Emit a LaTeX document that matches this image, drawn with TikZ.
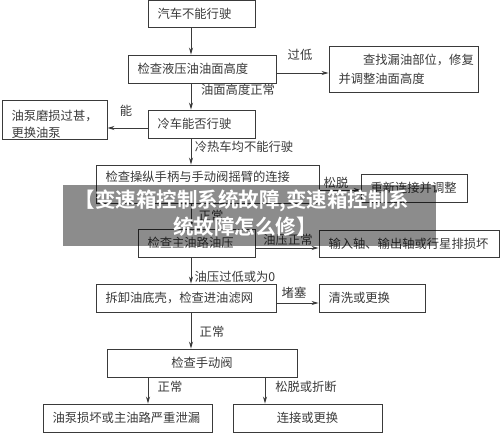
\documentclass[tikz,border=0pt]{standalone}
\usepackage{fontspec}
\usetikzlibrary{arrows.meta}
\newfontfamily\song{Noto Sans CJK SC}
\newfontfamily\bannerfont{Noto Sans CJK SC}[BoldFont={Noto Sans CJK SC Bold}]
\definecolor{linec}{HTML}{3A3A3A}
\definecolor{txtc}{HTML}{3A3A3A}
\tikzset{
  box/.style={draw=linec, line width=0.9pt, inner xsep=9.5pt, inner ysep=0pt,
    align=left, text=txtc, font=\song\fontsize{12.3}{17}\selectfont},
  cbox/.style={box, align=center},
  lbl/.style={inner sep=0pt, text=txtc, font=\song\fontsize{12.3}{15}\selectfont},
  arr/.style={draw=linec, line width=0.8pt, -{Stealth[length=7pt,width=4pt]}},
  bannertxt/.style={inner sep=0pt, text=white, font=\bannerfont\bfseries\fontsize{20.5}{24}\selectfont}
}
\begin{document}
\begin{tikzpicture}[x=1pt,y=-1pt]
\useasboundingbox[fill=white] (0,0) rectangle (500,433);
\coordinate (vx) at (191,0);
\coordinate (lx) at (148,0);
\coordinate (rx) at (265,0);

\node[box, minimum height=27pt, text width=88pt] (b1) at (201.5,13.5) {汽车不能行驶};
\node[box, minimum height=28pt, text width=129pt] (b2) at (202,69) {检查液压油油面高度};
\node[box, minimum height=46pt, text width=130pt] (b3) at (403.5,69) {\hspace*{2em}查找漏油部位，修复\\[2pt]并调整油面高度};
\node[box, minimum height=28pt, text width=88pt] (b4) at (201.5,124) {冷车能否行驶};
\node[box, minimum height=39pt, text width=86pt] (b5) at (54.5,119.5) {\vrule width 0pt height 19pt depth 0pt油泵磨损过甚，\\更换油泵};
\node[box, minimum height=38pt, text width=204pt] (b6) at (207.5,184) {检查操纵手柄与手动阀摇臂的连接\vrule width 0pt height 0pt depth 15.5pt};
\node[box, minimum height=28pt, text width=87pt] (b7) at (414,188) {重新连接并调整};
\node[box, minimum height=28pt, text width=98pt] (b8) at (196.5,243) {检查主油路油压};
\node[box, minimum height=27pt, text width=161pt] (b9) at (409,243.5) {输入轴、输出轴或行星排损坏};
\node[box, minimum height=28pt, text width=161pt] (b10) at (186,298) {拆卸油底壳，检查进油滤网};
\node[box, minimum height=28pt, text width=87pt] (b11) at (372,298) {清洗或更换};
\node[cbox, minimum height=28pt, text width=171pt] (b12) at (202,363) {检查手动阀};
\node[box, minimum height=28pt, text width=150pt] (b13) at (127.5,418) {油泵损坏或主油路严重泄漏};
\node[cbox, minimum height=28pt, text width=130pt] (b14) at (307.5,418) {连接或更换};

\draw[arr] (b1.south -| vx) -- (b2.north -| vx);
\draw[arr] (b2.south -| vx) -- (b4.north -| vx);
\draw[arr] (b4.south -| vx) -- (b6.north -| vx);
\draw[arr] (b6.south -| vx) -- (b8.north -| vx);
\draw[arr] (b8.south -| vx) -- (b10.north -| vx);
\draw[arr] (b10.south -| vx) -- (b12.north -| vx);
\draw[arr] (b12.south -| lx) -- (b13.north -| lx);
\draw[arr] (b12.south -| rx) -- (b14.north -| rx);
\draw[arr] ([yshift=-4pt]b2.east) -- ([yshift=-4pt]b2.east -| b3.west);
\draw[arr] ([yshift=-4pt]b4.west) -- ([yshift=-4pt]b4.west -| b5.east);
\draw[arr] ([yshift=-6pt]b6.east) -- ([yshift=-6pt]b6.east -| b7.west);
\draw[arr] ([yshift=-5pt]b8.east) -- ([yshift=-5pt]b8.east -| b9.west);
\draw[arr] ([yshift=-5pt]b10.east) -- ([yshift=-5pt]b10.east -| b11.west);

\node[lbl] (l1) at (300,55) {过低};
\node[lbl] (l2) at (238,90) {油面高度正常};
\node[lbl] (l3) at (126,111) {能};
\node[lbl] (l4) at (244,147) {冷热车均不能行驶};
\node[lbl] (l5) at (336,183) {松脱};
\node[lbl] (l6) at (211,216) {正常};
\node[lbl] (l7) at (288,240) {油压正常};
\node[lbl] (l8) at (235,277) {油压过低或为0};
\node[lbl] (l9) at (294,293) {堵塞};
\node[lbl] (l10) at (212,332) {正常};
\node[lbl] (l11) at (170,387) {正常};
\node[lbl] (l12) at (306,387) {松脱或折断};

\fill[black, opacity=0.45] (63,185) rectangle (436,246);
\node[bannertxt] (t1) at (242,201) {【变速箱控制系统故障,变速箱控制系};
\node[bannertxt] (t2) at (245,227) {统故障怎么修】};
\end{tikzpicture}
\end{document}
